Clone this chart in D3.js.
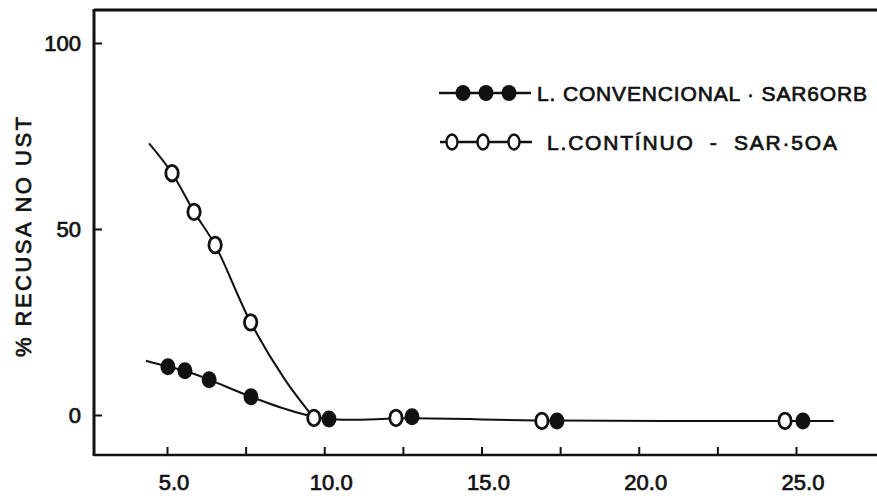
<!DOCTYPE html>
<html><head><meta charset="utf-8">
<script src="https://cdn.jsdelivr.net/npm/d3@7"></script>
<style>
html,body{margin:0;padding:0;background:#fff;}
text{font-family:"Liberation Sans",Arial,sans-serif;fill:#111;}
</style></head>
<body><svg id="c" width="877" height="500"></svg>
<script>
// ---- data ----
const xTicks = [5, 7.5, 10, 12.5, 15, 17.5, 20, 22.5, 25];
const xTickLabels = ["5.0", "10.0", "15.0", "20.0", "25.0"];
const xLabelValues = [5, 10, 15, 20, 25];
const yTicks = [0, 50, 100];
const yTickLabels = ["0", "50", "100"];

// L. CONTÍNUO - SAR 50A (open circles)
const contX = [5.16, 5.86, 6.53, 7.66, 9.67, 12.28, 16.92, 24.65];
const contY = [65, 54.6, 45.7, 24.9, -0.8, -0.8, -1.6, -1.6];
// fitted curve for open series
const contCurveX = [4.43, 5.16, 5.86, 6.53, 7.66, 8.75, 9.67];
const contCurveY = [73, 65, 54.6, 45.7, 24.9, 9.5, -0.8];

// L. CONVENCIONAL - SAR60RB (filled circles)
const convX = [5.03, 5.57, 6.34, 7.67, 10.15, 12.79, 17.4, 25.22];
const convY = [13, 11.9, 9.5, 4.9, -1.1, -0.5, -1.6, -1.6];
// fitted curve for filled series
const convCurveX = [4.33, 5.03, 5.57, 6.34, 7.67, 9.0, 10.15, 12.79, 17.4, 25.22, 26.2];
const convCurveY = [14.6, 13, 11.9, 9.5, 4.9, 1.0, -1.1, -0.9, -1.5, -1.6, -1.6];

const legendLabels = ["L. CONVENCIONAL · SAR6ORB", "L.CONTÍNUO  -  SAR·5OA"];

// ---- drawing ----
const svg = d3.select("#c");
const x = d3.scaleLinear().domain([5, 25]).range([167, 796]);
const y = d3.scaleLinear().domain([0, 100]).range([415, 43]);
const fLeft = 94, fRight = 877, fTop = 10, fBottom = 455;

// frame
svg.append("line").attr("x1", fLeft).attr("x2", fLeft).attr("y1", fTop - 1).attr("y2", fBottom + 1)
  .attr("stroke", "#111").attr("stroke-width", 3);
svg.append("line").attr("x1", fLeft).attr("x2", fRight).attr("y1", fTop).attr("y2", fTop)
  .attr("stroke", "#111").attr("stroke-width", 3);
svg.append("line").attr("x1", fLeft).attr("x2", fRight).attr("y1", fBottom).attr("y2", fBottom)
  .attr("stroke", "#111").attr("stroke-width", 2.6);

// x axis ticks (pointing up)
const xAxis = d3.axisBottom(x).tickValues(xTicks).tickSize(-8).tickFormat("");
const gx = svg.append("g").attr("transform", `translate(0,${fBottom})`).call(xAxis);
gx.select(".domain").remove();
gx.selectAll(".tick line").attr("stroke", "#111").attr("stroke-width", 2);
svg.append("g").selectAll("text").data(xLabelValues).join("text")
  .attr("x", d => x(d) + 7).attr("y", 490).attr("text-anchor", "middle")
  .attr("font-size", 22).attr("stroke", "#111").attr("stroke-width", 0.7)
  .text((d, i) => xTickLabels[i]);

// y axis ticks (pointing right)
const yAxis = d3.axisLeft(y).tickValues(yTicks).tickSize(-8).tickFormat("");
const gy = svg.append("g").attr("transform", `translate(${fLeft},0)`).call(yAxis);
gy.select(".domain").remove();
gy.selectAll(".tick line").attr("stroke", "#111").attr("stroke-width", 2);
svg.append("g").selectAll("text").data(yTicks).join("text")
  .attr("x", 81).attr("y", d => y(d) + 8).attr("text-anchor", "end")
  .attr("font-size", 22).attr("stroke", "#111").attr("stroke-width", 0.7)
  .text((d, i) => yTickLabels[i]);

// y axis title
svg.append("text").attr("transform", "translate(31,237) rotate(-90)")
  .attr("text-anchor", "middle").attr("font-size", 22)
  .attr("stroke", "#111").attr("stroke-width", 0.7)
  .attr("textLength", 240).attr("lengthAdjust", "spacing")
  .text("% RECUSA NO UST");

// curves
const line = d3.line().x(d => x(d[0])).y(d => y(d[1])).curve(d3.curveCatmullRom.alpha(0.5));
svg.append("path").datum(convCurveX.map((v, i) => [v, convCurveY[i]]))
  .attr("d", line).attr("fill", "none").attr("stroke", "#111").attr("stroke-width", 2);
svg.append("path").datum(contCurveX.map((v, i) => [v, contCurveY[i]]))
  .attr("d", line).attr("fill", "none").attr("stroke", "#111").attr("stroke-width", 2);

// points
svg.append("g").selectAll("ellipse").data(convX.map((v, i) => [v, convY[i]])).join("ellipse")
  .attr("cx", d => x(d[0])).attr("cy", d => y(d[1])).attr("rx", 7.5).attr("ry", 8.5)
  .attr("fill", "#111");
svg.append("g").selectAll("ellipse").data(contX.map((v, i) => [v, contY[i]])).join("ellipse")
  .attr("cx", d => x(d[0])).attr("cy", d => y(d[1])).attr("rx", 6.2).attr("ry", 7.8)
  .attr("fill", "#fff").attr("stroke", "#111").attr("stroke-width", 2.8);

// legend
const lg = svg.append("g");
lg.append("line").attr("x1", 439).attr("x2", 531).attr("y1", 93).attr("y2", 93)
  .attr("stroke", "#111").attr("stroke-width", 2.5);
lg.selectAll("ellipse.f").data([463, 486, 509]).join("ellipse").attr("class", "f")
  .attr("cx", d => d).attr("cy", 93).attr("rx", 7.5).attr("ry", 8).attr("fill", "#111");
lg.append("line").attr("x1", 440).attr("x2", 532).attr("y1", 142).attr("y2", 142)
  .attr("stroke", "#111").attr("stroke-width", 2.5);
lg.selectAll("ellipse.o").data([452, 483, 514]).join("ellipse").attr("class", "o")
  .attr("cx", d => d).attr("cy", 142).attr("rx", 5.5).attr("ry", 7.5)
  .attr("fill", "#fff").attr("stroke", "#111").attr("stroke-width", 2.4);
lg.append("text").attr("x", 537).attr("y", 101).attr("font-size", 21)
  .attr("stroke", "#111").attr("stroke-width", 0.7)
  .attr("textLength", 330).attr("lengthAdjust", "spacing")
  .style("white-space", "pre").text(legendLabels[0]);
lg.append("text").attr("x", 547).attr("y", 150).attr("font-size", 21)
  .attr("stroke", "#111").attr("stroke-width", 0.7)
  .attr("textLength", 290).attr("lengthAdjust", "spacing")
  .style("white-space", "pre").text(legendLabels[1]);
</script>
</body></html>
